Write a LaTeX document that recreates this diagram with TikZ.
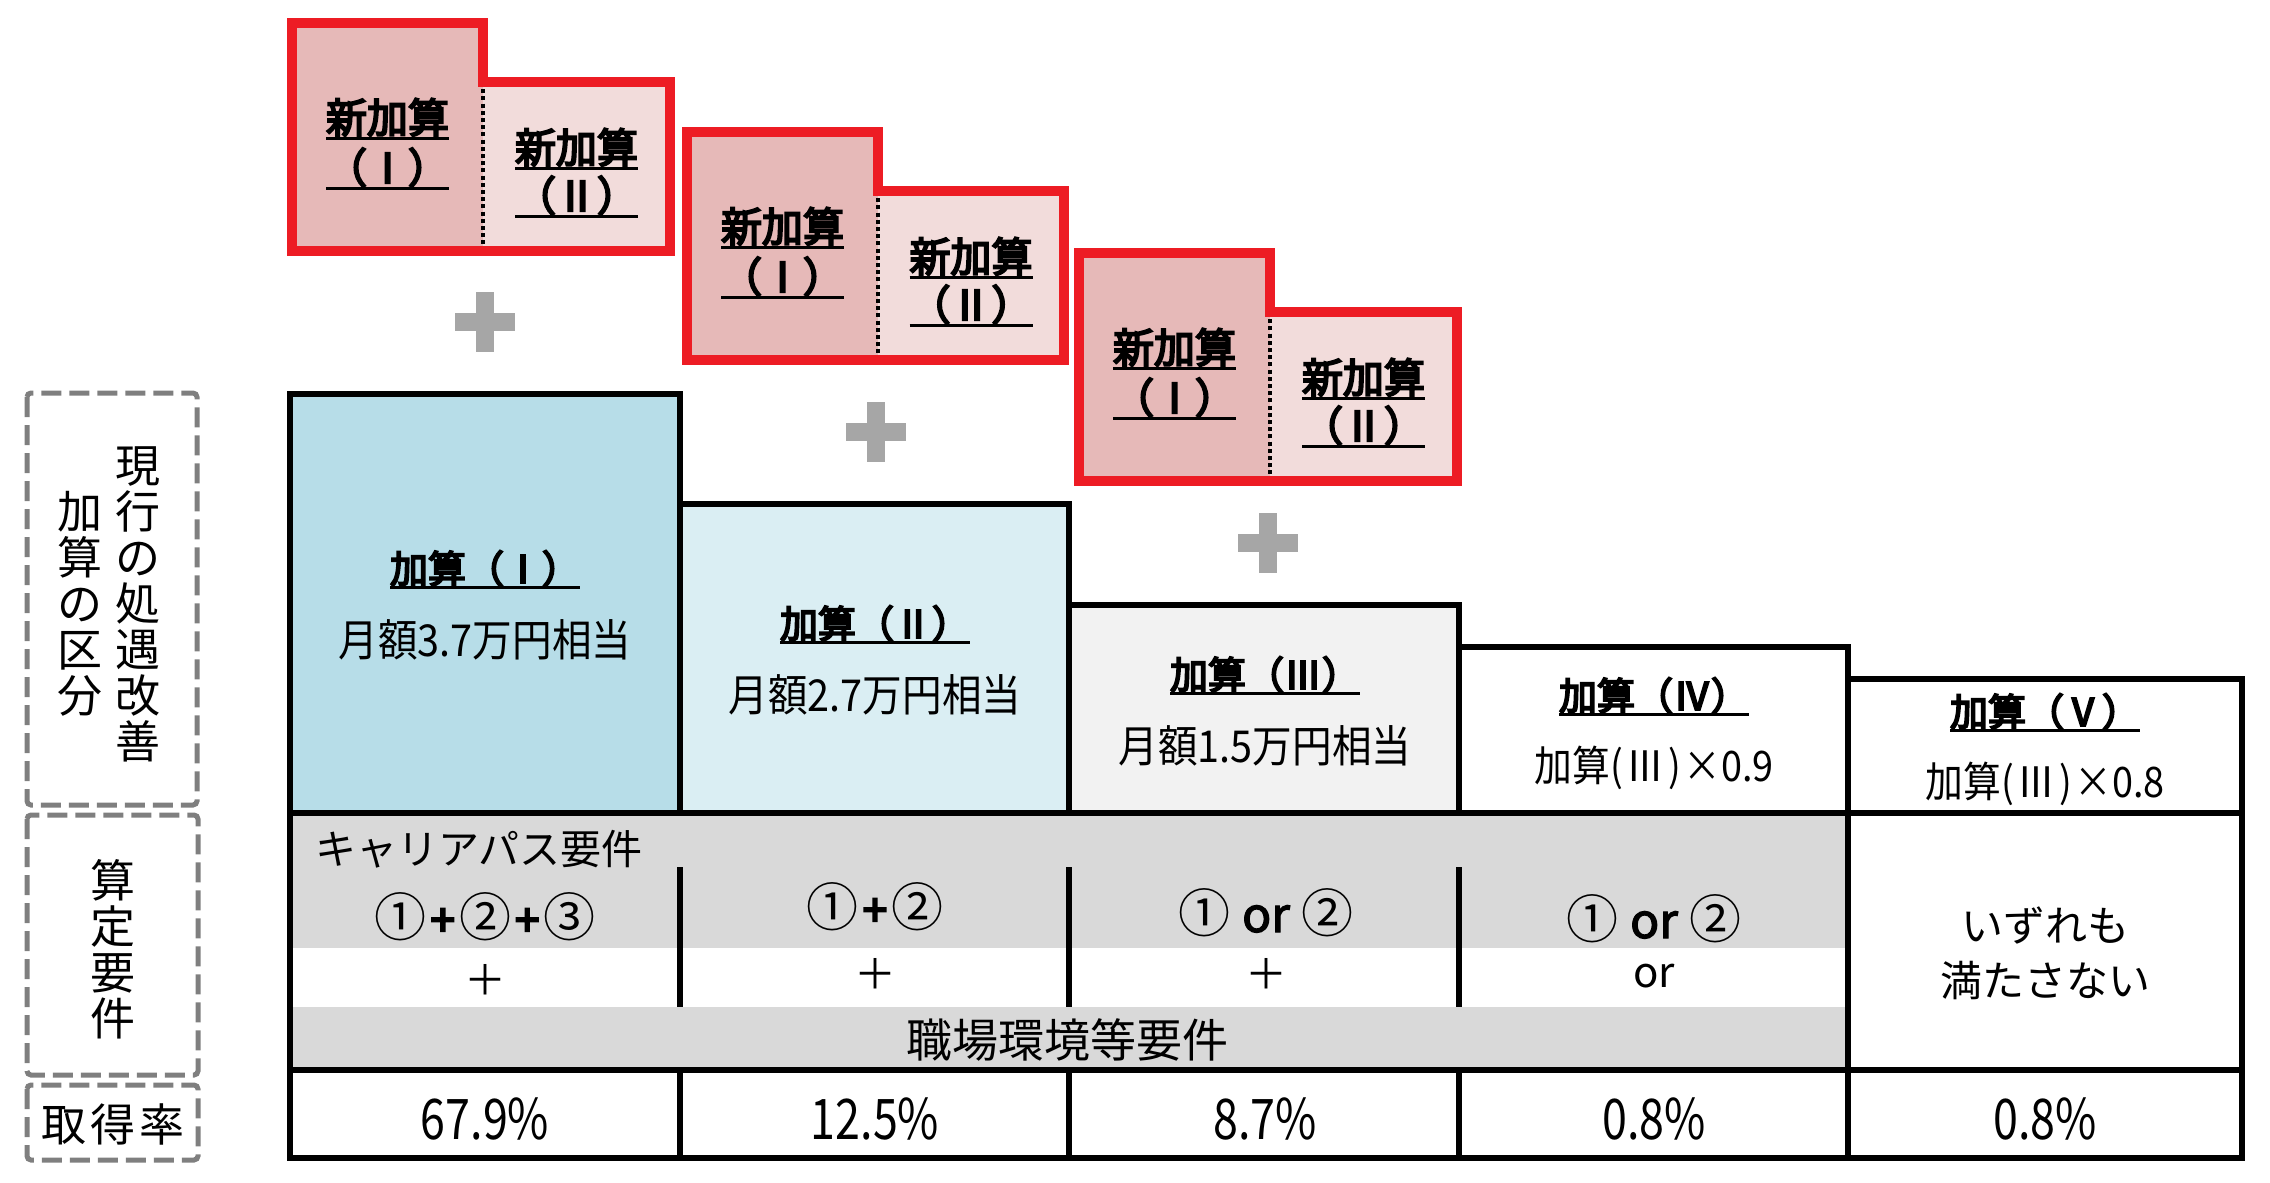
\documentclass[tikz,border=0pt]{standalone}
\usepackage{fontspec}
\setmainfont{Noto Sans CJK JP}
\newfontfamily\heavy{Noto Sans CJK JP}[FakeBold=5]
\newfontfamily\bolder{Noto Sans CJK JP}[FakeBold=2.5]
\newfontfamily\narrow{Noto Sans CJK JP}[FakeStretch=0.9]
\newfontfamily\pctfont{Noto Sans CJK JP}[FakeStretch=0.8]
\definecolor{redc}{HTML}{ED1C24}
\definecolor{pinkA}{HTML}{E6B9B8}
\definecolor{pinkB}{HTML}{F2DCDB}
\definecolor{blueA}{HTML}{B7DDE8}
\definecolor{blueB}{HTML}{DAEEF3}
\definecolor{grayIII}{HTML}{F2F2F2}
\definecolor{reqgray}{HTML}{D9D9D9}
\definecolor{plusgray}{HTML}{A6A6A6}
\definecolor{lblgray}{HTML}{7F7F7F}
\newcommand\fs[2]{\fontsize{#1}{#2}\selectfont}
\newsavebox\ulbx
\newcommand\ulx[1]{\sbox\ulbx{#1}\rlap{\rule[-0.16em]{\wd\ulbx}{1.3pt}}\usebox\ulbx}
\newcommand\cpl{\kern2pt{\heavy\fs{22}{22}+}\kern2pt}
\begin{document}
\begin{tikzpicture}[x=0.5pt,y=-0.5pt,
  tbl/.style={draw=black,line width=3pt,line join=miter},
  redout/.style={draw=redc,line width=5pt,line join=miter},
  dotsep/.style={draw=black,line width=2pt,dash pattern=on 2pt off 1.6pt},
  lbl/.style={draw=lblgray,line width=2.5pt,dash pattern=on 10pt off 4pt,rounded corners=2pt},
  t/.style={inner sep=0pt,text=black,align=center},
  tb/.style={t,anchor=base},
  newt/.style={tb,font=\heavy\fs{20.5}{20.5}},
  head/.style={tb,font=\heavy\fs{19}{19}},
  sub/.style={tb,font=\narrow\fs{22}{22}},
  subx/.style={tb,font=\narrow\fs{21}{21}},
  pct/.style={tb,font=\pctfont\fs{28}{28}},
  req/.style={tb,font=\fs{26}{26}},
  thin/.style={tb,font=\fs{21}{21}},
  side/.style={t,font=\fs{22.5}{23}},
]
\useasboundingbox (0,0) rectangle (2270,1183);

% new additions (red stepped boxes)
\foreach \L/\T/\SX/\SY/\R/\B/\n in {292/23/483/82/670/251/1,687/132/878/191/1064/360/2,1079/253/1270/312/1457/481/3}{
  \fill[pinkA] (\L,\T) rectangle (\SX,\B);
  \fill[pinkB] (\SX,\SY) rectangle (\R,\B);
  \draw[dotsep] (\SX,\SY) -- (\SX,\B);
  \draw[redout] (\L,\T) -- (\SX,\T) -- (\SX,\SY) -- (\R,\SY) -- (\R,\B) -- (\L,\B) -- cycle;
  \node[newt] (nla\n) at ({(\L+\SX)/2},{\T+110}) {\ulx{新加算}};
  \node[newt] (nlb\n) at ({(\L+\SX)/2},{\T+160}) {\ulx{（Ⅰ）}};
  \node[newt] (nra\n) at ({(\SX+\R)/2},{\SY+81}) {\ulx{新加算}};
  \node[newt] (nrb\n) at ({(\SX+\R)/2},{\SY+129}) {\ulx{（Ⅱ）}};
}

% gray plus signs
\foreach \px/\py in {485/322,876/432,1268/543}{
  \fill[plusgray] (\px-30,\py-9) rectangle (\px+30,\py+9);
  \fill[plusgray] (\px-9,\py-30) rectangle (\px+9,\py+30);
}

% table fills
\fill[blueA] (290,394) rectangle (680,813);
\fill[blueB] (680,504) rectangle (1069,813);
\fill[grayIII] (1069,605) rectangle (1459,813);
\fill[reqgray] (290,813) rectangle (1848,948);
\fill[reqgray] (290,1007) rectangle (1848,1070);

% table lines
\draw[tbl] (290,394) rectangle (680,813);
\draw[tbl] (680,504) rectangle (1069,813);
\draw[tbl] (1069,605) rectangle (1459,813);
\draw[tbl] (1459,647) rectangle (1848,813);
\draw[tbl] (1848,679) rectangle (2242,813);
\draw[tbl] (290,813) rectangle (2242,1158);
\draw[tbl] (290,1070) -- (2242,1070);
\draw[tbl] (1848,813) -- (1848,1158);
\foreach \x in {680,1069,1459}{
  \draw[tbl] (\x,867) -- (\x,1007);
  \draw[tbl] (\x,1070) -- (\x,1158);
}

% headings
\node[head] (h1) at (485,583) {\ulx{加算（Ⅰ）}};
\node[sub]  (s1) at (485,656) {月額3.7万円相当};
\node[head] (h2) at (875,638) {\ulx{加算（Ⅱ）}};
\node[sub]  (s2) at (875,711) {月額2.7万円相当};
\node[head] (h3) at (1265,689) {\ulx{加算（Ⅲ）}};
\node[sub]  (s3) at (1265,762) {月額1.5万円相当};
\node[head] (h4) at (1654,710) {\ulx{加算（Ⅳ）}};
\node[subx] (s4) at (1654,781) {加算(\kern2pt Ⅲ\kern2pt)\kern1pt×0.9};
\node[head] (h5) at (2045,726) {\ulx{加算（Ⅴ）}};
\node[subx] (s5) at (2045,797) {加算(\kern2pt Ⅲ\kern2pt)\kern1pt×0.8};

% requirements
\node[tb,font=\fs{20.5}{20.5},anchor=base west] (cp) at (315,864) {キャリアパス要件};
\node[req] (r1) at (485,936) {①\cpl②\cpl③};
\node[req] (r2) at (875,926) {①\cpl②};
\node[req] (r3) at (1266,932) {① {\bolder\fs{24}{24}or} ②};
\node[req] (r4) at (1654,938) {① {\bolder\fs{24}{24}or} ②};
\node[thin] (p1) at (485,995) {＋};
\node[thin] (p2) at (875,989) {＋};
\node[thin] (p3) at (1266,989) {＋};
\node[thin] (p4) at (1654,987) {or};
\node[tb,font=\fs{23}{23}] (env) at (1067,1057) {職場環境等要件};
\node[tb,font=\fs{21}{21}] (nn1) at (2045,941) {いずれも};
\node[tb,font=\fs{21}{21}] (nn2) at (2045,996) {満たさない};

% rates
\node[pct] (q1) at (485,1139) {67.9\%};
\node[pct] (q2) at (875,1139) {12.5\%};
\node[pct] (q3) at (1265,1139) {8.7\%};
\node[pct] (q4) at (1654,1139) {0.8\%};
\node[pct] (q5) at (2045,1139) {0.8\%};

% left labels
\draw[lbl] (27,393) rectangle (197,805);
\draw[lbl] (27,815) rectangle (198,1075);
\draw[lbl] (27,1085) rectangle (198,1160);
\node[side] (la1) at (138,604) {現\\行\\の\\処\\遇\\改\\善};
\node[side] (la2) at (80,604) {加\\算\\の\\区\\分};
\node[side] (lb) at (113,949) {算\\定\\要\\件};
\node[tb,font=\fs{22.5}{22.5}] (lc) at (113,1141) {取\kern2pt 得\kern2pt 率};
\end{tikzpicture}
\end{document}
